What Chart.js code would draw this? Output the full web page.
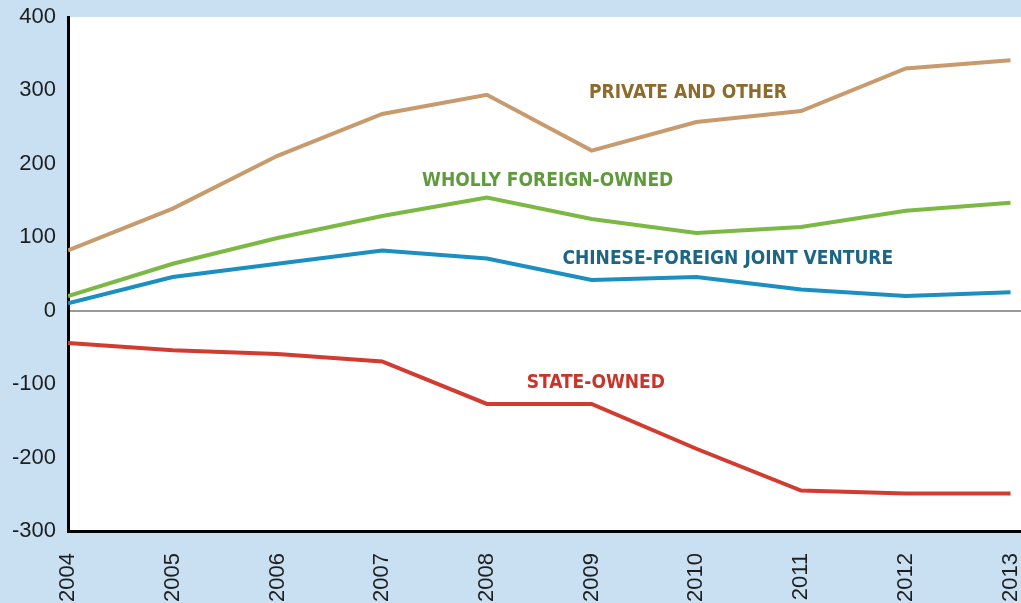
<!DOCTYPE html>
<html lang="en">
<head>
    <meta charset="UTF-8">
    <title>Net change by ownership type, 2004-2013</title>
    <style>
        html, body { margin: 0; padding: 0; background: #c8e0f1; }
        #wrap { width: 1021px; height: 603px; position: relative; }
    </style>
</head>
<body>
    <div id="wrap"><canvas id="chart"></canvas></div>

    <script src="https://cdn.jsdelivr.net/npm/chart.js"></script>
    <script>
        // data
        const years = [2004, 2005, 2006, 2007, 2008, 2009, 2010, 2011, 2012, 2013];
        const privateOther = [82, 139, 211, 268, 294, 218, 257, 272, 330, 341];
        const whollyForeign = [20, 64, 99, 129, 154, 125, 106, 114, 136, 147];
        const jointVenture = [10, 46, 64, 82, 71, 42, 46, 29, 20, 25];
        const stateOwned = [-44, -54, -59, -69, -127, -127, -188, -245, -249, -249];
        const yTicks = [-300, -200, -100, 0, 100, 200, 300, 400];

        // series labels, placed in data coordinates
        const seriesLabels = [
            { text: 'PRIVATE AND OTHER', x: 2009.92, y: 296, color: '#8c6b2c' },
            { text: 'WHOLLY FOREIGN-OWNED', x: 2008.58, y: 176, color: '#5f9b3c' },
            { text: 'CHINESE-FOREIGN JOINT VENTURE', x: 2010.3, y: 71, color: '#1d6584' },
            { text: 'STATE-OWNED', x: 2009.04, y: -98, color: '#c8352b' }
        ];

        function toPoints(vals) {
            return vals.map((v, i) => ({ x: years[i], y: v }));
        }

        const labelPlugin = {
            id: 'seriesLabels',
            afterDatasetsDraw(chart) {
                const ctx = chart.ctx;
                const xs = chart.scales.x, ys = chart.scales.y;
                ctx.save();
                ctx.font = 'bold 19px "DejaVu Sans Condensed", "Liberation Sans Narrow", sans-serif';
                ctx.textAlign = 'center';
                ctx.textBaseline = 'middle';
                seriesLabels.forEach(l => {
                    ctx.fillStyle = l.color;
                    ctx.fillText(l.text, xs.getPixelForValue(l.x), ys.getPixelForValue(l.y));
                });
                ctx.restore();
            }
        };

        const lineStyle = { borderWidth: 4, pointRadius: 0, tension: 0, fill: false };

        new Chart(document.getElementById('chart'), {
            type: 'line',
            data: {
                datasets: [
                    Object.assign({ label: 'Private and other', data: toPoints(privateOther), borderColor: '#c79b6d' }, lineStyle),
                    Object.assign({ label: 'Wholly foreign-owned', data: toPoints(whollyForeign), borderColor: '#7cb944' }, lineStyle),
                    Object.assign({ label: 'Chinese-foreign joint venture', data: toPoints(jointVenture), borderColor: '#1b8fc1' }, lineStyle),
                    Object.assign({ label: 'State-owned', data: toPoints(stateOwned), borderColor: '#d23c30' }, lineStyle)
                ]
            },
            plugins: [labelPlugin, {
                id: 'plotBg',
                beforeDraw(chart) {
                    const a = chart.chartArea;
                    chart.ctx.save();
                    chart.ctx.fillStyle = '#ffffff';
                    chart.ctx.fillRect(a.left, a.top, a.right - a.left, a.bottom - a.top);
                    chart.ctx.restore();
                }
            }],
            options: {
                responsive: true,
                maintainAspectRatio: false,
                animation: false,
                layout: { padding: { top: 17, right: 0, left: 0, bottom: 0 } },
                plugins: { legend: { display: false }, tooltip: { enabled: false } },
                scales: {
                    x: {
                        type: 'linear',
                        min: 2004,
                        max: 2013.1,
                        afterBuildTicks: s => { s.ticks = years.map(v => ({ value: v })); },
                        afterFit: s => { s.height = 72; s.paddingLeft = 0; s.paddingRight = 0; },
                        grid: { display: false },
                        border: { color: '#000000', width: 3 },
                        ticks: {
                            color: '#1e1e1e',
                            font: { family: 'Liberation Sans, Arial, sans-serif', size: 22 },
                            minRotation: 90,
                            maxRotation: 90,
                            padding: 14,
                            callback: v => String(v)
                        }
                    },
                    y: {
                        min: -300,
                        max: 400,
                        afterBuildTicks: s => { s.ticks = yTicks.map(v => ({ value: v })); },
                        afterFit: s => { s.width = 68; s.paddingTop = 0; s.paddingBottom = 0; },
                        grid: {
                            drawTicks: false,
                            color: c => c.tick && c.tick.value === 0 ? '#999999' : 'rgba(0,0,0,0)',
                            lineWidth: 2
                        },
                        border: { color: '#000000', width: 3 },
                        ticks: {
                            color: '#1e1e1e',
                            font: { family: 'Liberation Sans, Arial, sans-serif', size: 22 },
                            padding: 12,
                            callback: v => String(v)
                        }
                    }
                }
            }
        });
    </script>
</body>
</html>
